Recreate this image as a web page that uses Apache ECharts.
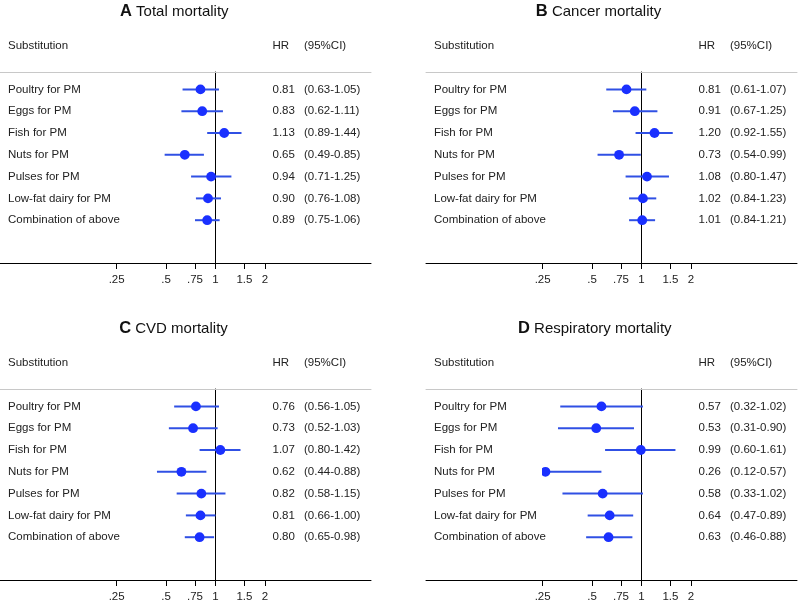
<!DOCTYPE html>
<html><head><meta charset="utf-8">
<script src="https://cdn.jsdelivr.net/npm/echarts@6/dist/echarts.min.js"></script>
<style>html,body{margin:0;padding:0;background:#fff}#c{width:798px;height:605px}</style>
</head><body><div id="c"></div>
<script>
// ---------- data ----------
const substitutions = ['Poultry for PM','Eggs for PM','Fish for PM','Nuts for PM','Pulses for PM','Low-fat dairy for PM','Combination of above'];
const headerLabels = ['Substitution','HR','(95%CI)'];
const panelLetters = ['A','B','C','D'];
const panelTitles = ['Total mortality','Cancer mortality','CVD mortality','Respiratory mortality'];
const tickValues = [0.25,0.5,0.75,1,1.5,2];
const tickLabels = ['.25','.5','.75','1','1.5','2'];

const totalHR = [0.81,0.83,1.13,0.65,0.94,0.90,0.89];
const totalLo = [0.63,0.62,0.89,0.49,0.71,0.76,0.75];
const totalHi = [1.05,1.11,1.44,0.85,1.25,1.08,1.06];

const cancerHR = [0.81,0.91,1.20,0.73,1.08,1.02,1.01];
const cancerLo = [0.61,0.67,0.92,0.54,0.80,0.84,0.84];
const cancerHi = [1.07,1.25,1.55,0.99,1.47,1.23,1.21];

const cvdHR = [0.76,0.73,1.07,0.62,0.82,0.81,0.80];
const cvdLo = [0.56,0.52,0.80,0.44,0.58,0.66,0.65];
const cvdHi = [1.05,1.03,1.42,0.88,1.15,1.00,0.98];

const respHR = [0.57,0.53,0.99,0.26,0.58,0.64,0.63];
const respLo = [0.32,0.31,0.60,0.12,0.33,0.47,0.46];
const respHi = [1.02,0.90,1.61,0.57,1.02,0.89,0.88];

const panelData = [
  {hr: totalHR, lo: totalLo, hi: totalHi},
  {hr: cancerHR, lo: cancerLo, hi: cancerHi},
  {hr: cvdHR, lo: cvdLo, hi: cvdHi},
  {hr: respHR, lo: respLo, hi: respHi}
];

// ---------- layout ----------
const PANELS = [{ox:0,oy:0,tx:174.3},{ox:426,oy:0,tx:598.5},{ox:0,oy:317,tx:173.5},{ox:426,oy:317,tx:594.8}];
const AXIS_W = 371, ONE_X = 215.5, PX = 71.3, TOP = 72, H = 191, ROW0 = 89.4, ROWH = 21.8;
const COLX = [8, 272.5, 304];
const FONT = '"Liberation Sans", Arial, Helvetica, sans-serif';
const TXT = '#222';
const xmin = -ONE_X / PX, xmax = (AXIS_W - ONE_X) / PX;
const clipMin = Math.log(0.25);
const ymin = -(ROW0 - TOP) / ROWH, ymax = ymin + H / ROWH;
const lnTicks = tickValues.map(v => Math.log(v));
function tickFmt(v) {
  for (let k = 0; k < lnTicks.length; k++) if (Math.abs(lnTicks[k] - v) < 1e-6) return tickLabels[k];
  return '';
}

const grid = [], xAxis = [], yAxis = [], series = [], title = [];
PANELS.forEach((p, i) => {
  const d = panelData[i];
  const gA = grid.length;
  grid.push({left: p.ox, top: p.oy + TOP, width: AXIS_W, height: H});
  const dataLeft = p.ox + ONE_X + clipMin * PX;
  grid.push({left: dataLeft, top: p.oy + TOP, width: p.ox + AXIS_W - dataLeft, height: H});
  const xBottom = xAxis.length;
  xAxis.push({
    gridIndex: gA, type: 'value', min: xmin, max: xmax, position: 'bottom',
    axisLine: {onZero: false, lineStyle: {color: '#000', width: 1}},
    axisTick: {customValues: lnTicks, length: 6, lineStyle: {color: '#000'}},
    axisLabel: {customValues: lnTicks, formatter: tickFmt, margin: 11, fontSize: 11.5, fontFamily: FONT, color: TXT},
    splitLine: {show: false}
  });
  xAxis.push({
    gridIndex: gA, type: 'value', min: xmin, max: xmax, position: 'top',
    axisLine: {onZero: false, lineStyle: {color: '#c8c8c8', width: 1}},
    axisTick: {show: false}, axisLabel: {show: false}, splitLine: {show: false}
  });
  const xData = xAxis.length;
  xAxis.push({
    gridIndex: gA + 1, type: 'value', min: clipMin, max: xmax, show: false,
    axisLine: {onZero: false}, splitLine: {show: false}
  });
  const yA = yAxis.length;
  yAxis.push({gridIndex: gA, type: 'value', inverse: true, min: ymin, max: ymax, show: false,
    axisLine: {onZero: false}, splitLine: {show: false}});
  const yD = yAxis.length;
  yAxis.push({gridIndex: gA + 1, type: 'value', inverse: true, min: ymin, max: ymax,
    axisLine: {show: true, onZero: true, lineStyle: {color: '#000', width: 1}},
    axisTick: {show: false}, axisLabel: {show: false}, splitLine: {show: false}});

  // text columns
  const rowsData = substitutions.map((s, k) => [0, k]).concat([[0, -2]]);
  series.push({
    type: 'custom', xAxisIndex: xBottom, yAxisIndex: yA, clip: false, silent: true,
    data: rowsData, encode: {x: 0, y: 1},
    renderItem: (params, api) => {
      const k = params.dataIndex;
      const y = api.coord([0, api.value(1)])[1];
      const x0 = params.coordSys.x;
      const texts = k >= substitutions.length ? headerLabels :
        [substitutions[k], d.hr[k].toFixed(2), '(' + d.lo[k].toFixed(2) + '-' + d.hi[k].toFixed(2) + ')'];
      return {type: 'group', children: texts.map((t, c) => ({
        type: 'text', x: x0 + COLX[c], y: y,
        style: {text: t, fill: TXT, fontSize: 11.5, fontFamily: FONT, align: 'left', verticalAlign: 'middle'}
      }))};
    }
  });
  // CI lines and points
  series.push({
    type: 'custom', xAxisIndex: xData, yAxisIndex: yD, clip: true, silent: true,
    data: d.hr.map((v, k) => [Math.log(v), k, Math.log(d.lo[k]), Math.log(d.hi[k])]),
    encode: {x: [0, 2, 3], y: 1},
    renderItem: (params, api) => {
      const r = api.value(1);
      const pt = api.coord([api.value(0), r]);
      const a = api.coord([api.value(2), r]);
      const b = api.coord([api.value(3), r]);
      return {type: 'group', children: [
        {type: 'line', shape: {x1: a[0], y1: a[1], x2: b[0], y2: b[1]}, style: {stroke: '#3050e4', lineWidth: 2}},
        {type: 'circle', shape: {cx: pt[0], cy: pt[1], r: 4.9}, style: {fill: '#1a30ff'}}
      ]};
    }
  });
  title.push({
    text: '{b|' + panelLetters[i] + '} ' + panelTitles[i],
    left: p.tx, top: p.oy + 3, textAlign: 'center', padding: 0,
    textStyle: {fontSize: 15, fontFamily: FONT, color: '#111', fontWeight: 'normal',
      rich: {b: {fontSize: 16.5, fontWeight: 'bold', fontFamily: FONT, color: '#111'}}}
  });
});

const chart = echarts.init(document.getElementById('c'), null, {renderer: 'canvas'});
chart.setOption({animation: false, backgroundColor: '#fff', title, grid, xAxis, yAxis, series});
</script>
</body></html>
